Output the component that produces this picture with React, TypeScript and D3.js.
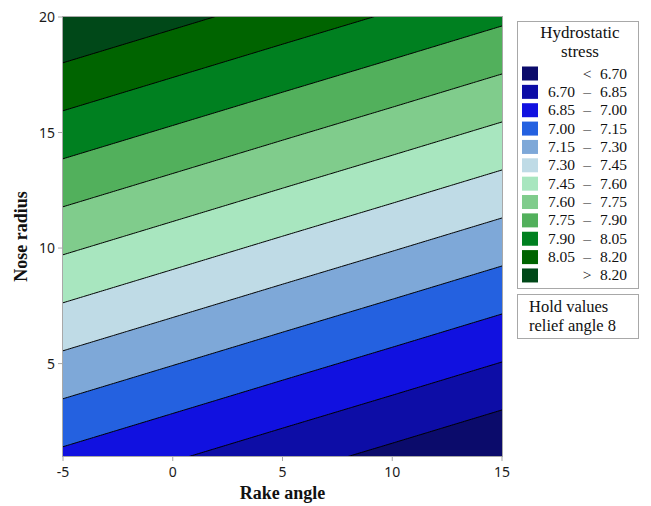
import React from "react";
import * as d3 from "d3";

// Coarse grid of hydrostatic stress values
const rakeAngles = [-5, 0, 5, 10, 15];
const noseRadii = [1, 5, 10, 15, 20];
// stress[j][i]: noseRadii[j], rakeAngles[i]
const stress = [
  [6.971, 6.867, 6.763, 6.66, 6.556],
  [7.26, 7.156, 7.052, 6.949, 6.845],
  [7.621, 7.517, 7.413, 7.31, 7.206],
  [7.982, 7.878, 7.774, 7.671, 7.567],
  [8.343, 8.239, 8.135, 8.032, 7.928],
];
const thresholds = [6.7, 6.85, 7.0, 7.15, 7.3, 7.45, 7.6, 7.75, 7.9, 8.05, 8.2];
const bandLabels = [
  ["", "<", "6.70"],
  ["6.70", "–", "6.85"],
  ["6.85", "–", "7.00"],
  ["7.00", "–", "7.15"],
  ["7.15", "–", "7.30"],
  ["7.30", "–", "7.45"],
  ["7.45", "–", "7.60"],
  ["7.60", "–", "7.75"],
  ["7.75", "–", "7.90"],
  ["7.90", "–", "8.05"],
  ["8.05", "–", "8.20"],
  ["", ">", "8.20"],
];
const bandColors = [
  "#0b0b6b",
  "#0d0da6",
  "#1111e0",
  "#2461e0",
  "#7ea8d8",
  "#bfdbe6",
  "#a8e6bf",
  "#80cc8c",
  "#52b05c",
  "#008020",
  "#006400",
  "#004818",
];
const xTicks = [-5, 0, 5, 10, 15];
const yTicks = [5, 10, 15, 20];

function locate(arr: number[], v: number) {
  let i = 0;
  while (i < arr.length - 2 && v > arr[i + 1]) i++;
  const t = (v - arr[i]) / (arr[i + 1] - arr[i]);
  return [i, t];
}
function surface(x: number, y: number) {
  const [i, tx] = locate(rakeAngles, x);
  const [j, ty] = locate(noseRadii, y);
  const z00 = stress[j][i], z10 = stress[j][i + 1];
  const z01 = stress[j + 1][i], z11 = stress[j + 1][i + 1];
  return (
    z00 * (1 - tx) * (1 - ty) + z10 * tx * (1 - ty) + z01 * (1 - tx) * ty + z11 * tx * ty
  );
}

export default function App() {
  const W = 651, H = 506;
  const left = 63, right = 502, top = 17, bottom = 456;
  const xs = d3.scaleLinear().domain([-5, 15]).range([left, right]);
  const ys = d3.scaleLinear().domain([1, 20]).range([bottom, top]);

  // render grid (slightly larger than plot area)
  const gx0 = -6, gy0 = 0, step = 0.1;
  const nx = 221, ny = 211;
  const values = new Array(nx * ny);
  for (let j = 0; j < ny; j++)
    for (let i = 0; i < nx; i++) values[j * nx + i] = surface(gx0 + i * step, gy0 + j * step);
  const contours = d3.contours().size([nx, ny]).thresholds(thresholds)(values);
  const proj = d3.geoTransform({
    point(this: any, cx: number, cy: number) {
      this.stream.point(xs(gx0 + (cx - 0.5) * step), ys(gy0 + (cy - 0.5) * step));
    },
  });
  const path = d3.geoPath(proj);

  const serif = "'Liberation Serif', 'Times New Roman', serif";
  const sans = "'Noto Sans', 'DejaVu Sans', Tahoma, sans-serif";
  const legX = 517, legY = 21, legW = 121;
  const rowH = 18.36;

  return (
    <svg width={W} height={H} style={{ position: "absolute", left: 0, top: 0, background: "#fff" }}>
      <defs>
        <clipPath id="plotclip">
          <rect x={left} y={top} width={right - left} height={bottom - top} />
        </clipPath>
      </defs>
      <g clipPath="url(#plotclip)">
        <rect x={left} y={top} width={right - left} height={bottom - top} fill={bandColors[0]} />
        {contours.map((c, k) => (
          <path key={"f" + k} d={path(c as any) || ""} fill={bandColors[k + 1]} stroke="none" />
        ))}
        {contours.map((c, k) => (
          <path key={"s" + k} d={path(c as any) || ""} fill="none" stroke="#000" strokeWidth={1} />
        ))}
      </g>
      <rect x={left - 0.5} y={top - 0.5} width={right - left + 1} height={bottom - top + 1} fill="none" stroke="#a8a8a8" strokeWidth={1} />
      {xTicks.map((t) => (
        <g key={"x" + t}>
          <line x1={xs(t)} x2={xs(t)} y1={bottom} y2={bottom + 5} stroke="#a8a8a8" />
          <text x={xs(t)} y={bottom + 21} textAnchor="middle" fontFamily={sans} fontSize={14} fill="#1a1a1a">
            {t}
          </text>
        </g>
      ))}
      {yTicks.map((t) => (
        <g key={"y" + t}>
          <line x1={left - 5} x2={left} y1={ys(t)} y2={ys(t)} stroke="#a8a8a8" />
          <text x={left - 8} y={ys(t) + 5} textAnchor="end" fontFamily={sans} fontSize={14} fill="#1a1a1a">
            {t}
          </text>
        </g>
      ))}
      <text x={(left + right) / 2} y={499} textAnchor="middle" fontFamily={serif} fontWeight="bold" fontSize={18} fill="#111">
        Rake angle
      </text>
      <text transform={`translate(27,${(top + bottom) / 2}) rotate(-90)`} textAnchor="middle" fontFamily={serif} fontWeight="bold" fontSize={18} fill="#111">
        Nose radius
      </text>

      <rect x={legX + 0.5} y={legY + 0.5} width={legW} height={267} fill="#fff" stroke="#a8a8a8" />
      <text x={legX + 63} y={38} textAnchor="middle" fontFamily={serif} fontSize={17} fill="#111">
        Hydrostatic
      </text>
      <text x={legX + 63} y={57} textAnchor="middle" fontFamily={serif} fontSize={17} fill="#111">
        stress
      </text>
      {bandLabels.map((lab, k) => {
        const cy = 73.5 + k * rowH;
        return (
          <g key={"l" + k}>
            <rect x={522} y={cy - 7} width={16} height={14} fill={bandColors[k]} />
            <text x={575} y={cy + 5} textAnchor="end" fontFamily={serif} fontSize={15.5} fill="#111">
              {lab[0]}
            </text>
            <text x={587} y={cy + 5} textAnchor="middle" fontFamily={serif} fontSize={15.5} fill="#111">
              {lab[1]}
            </text>
            <text x={627} y={cy + 5} textAnchor="end" fontFamily={serif} fontSize={15.5} fill="#111">
              {lab[2]}
            </text>
          </g>
        );
      })}
      <rect x={legX + 0.5} y={294.5} width={legW} height={44} fill="#fff" stroke="#a8a8a8" />
      <text x={legX + 12} y={312} fontFamily={serif} fontSize={16.5} fill="#111">
        Hold values
      </text>
      <text x={legX + 12} y={331} fontFamily={serif} fontSize={16.5} fill="#111">
        relief angle 8
      </text>
    </svg>
  );
}
